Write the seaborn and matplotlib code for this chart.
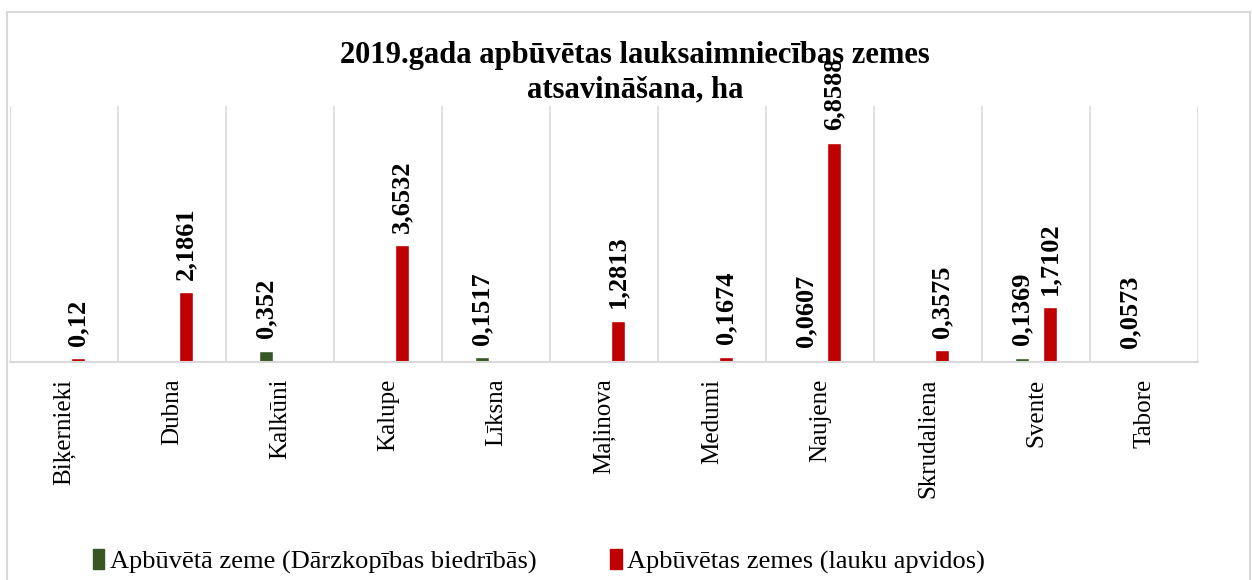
import matplotlib.pyplot as plt
import numpy as np
import pandas as pd
import seaborn as sns
from matplotlib.patches import Rectangle

sns.set_theme(style="white")
plt.rcParams["font.family"] = ["Liberation Serif", "DejaVu Serif"]
plt.rcParams["text.color"] = "black"
plt.rcParams["xtick.color"] = "black"

# dati
pagasti = ["Biķernieki", "Dubna", "Kalkūni", "Kalupe", "Līksna", "Maļinova",
           "Medumi", "Naujene", "Skrudaliena", "Svente", "Tabore"]
darzkopiba = [np.nan, np.nan, 0.352, np.nan, 0.1517, np.nan,
              np.nan, 0.0607, np.nan, 0.1369, 0.0573]
lauku = [0.12, 2.1861, np.nan, 3.6532, np.nan, 1.2813,
         0.1674, 6.8588, 0.3575, 1.7102, np.nan]
serija_1 = "Apbūvētā zeme (Dārzkopības biedrībās)"
serija_2 = "Apbūvētas zemes (lauku apvidos)"
virsraksts = "2019.gada apbūvētas lauksaimniecības zemes\natsavināšana, ha"

df = pd.DataFrame({"Pagasts": pagasti, serija_1: darzkopiba, serija_2: lauku})
df_long = df.melt(id_vars="Pagasts", var_name="Veids", value_name="ha").dropna()

fig = plt.figure(figsize=(12.52, 5.8), dpi=100)
ax = fig.add_axes([0.008, 0.376, 0.949, 0.441])

sns.barplot(
    data=df_long, x="Pagasts", y="ha", hue="Veids",
    order=pagasti, hue_order=[serija_1, serija_2],
    palette=["#375623", "#c00000"], saturation=1,
    width=0.52, gap=0.5, ax=ax, legend=False,
)

# vērtības virs stabiņiem
for cont in ax.containers:
    labels = [f"{b.get_height():g}".replace(".", ",") for b in cont]
    ax.bar_label(cont, labels=labels, rotation=90, padding=9,
                 fontsize=19, fontweight="bold", clip_on=False)

ax.set_ylim(0, 8)
ax.set_xlim(-0.5, len(pagasti) - 0.5)
ax.set_yticks([])
ax.set_xlabel("")
ax.set_ylabel("")
ax.set_xticks(np.arange(-0.5, len(pagasti)), minor=True)
ax.grid(True, which="minor", axis="x", color="#d9d9d9", lw=1.2)
ax.tick_params(axis="x", which="both", length=0, pad=12)
for lbl in ax.get_xticklabels():
    lbl.set_rotation(90)
    lbl.set_fontsize(18)
for s in ["top", "left", "right"]:
    ax.spines[s].set_visible(False)
ax.spines["bottom"].set_color("#d9d9d9")
ax.spines["bottom"].set_linewidth(1.5)

fig.text(0.507, 0.875, virsraksts, ha="center", va="center",
         fontsize=22, fontweight="bold", linespacing=1.25)

handles = [Rectangle((0, 0), 1, 1, color="#375623"),
           Rectangle((0, 0), 1, 1, color="#c00000")]
fig.legend(handles, [serija_1, serija_2], loc="lower left",
           bbox_to_anchor=(0.055, -0.03), ncol=2, frameon=False,
           fontsize=19, handlelength=0.45, handleheight=0.8,
           handletextpad=0.2, columnspacing=2.8)

fig.patches.append(Rectangle((0.0056, -0.01), 0.993, 0.989,
                             transform=fig.transFigure, fill=False,
                             edgecolor="#d9d9d9", lw=1.5))

plt.savefig("out.png", dpi=100)
